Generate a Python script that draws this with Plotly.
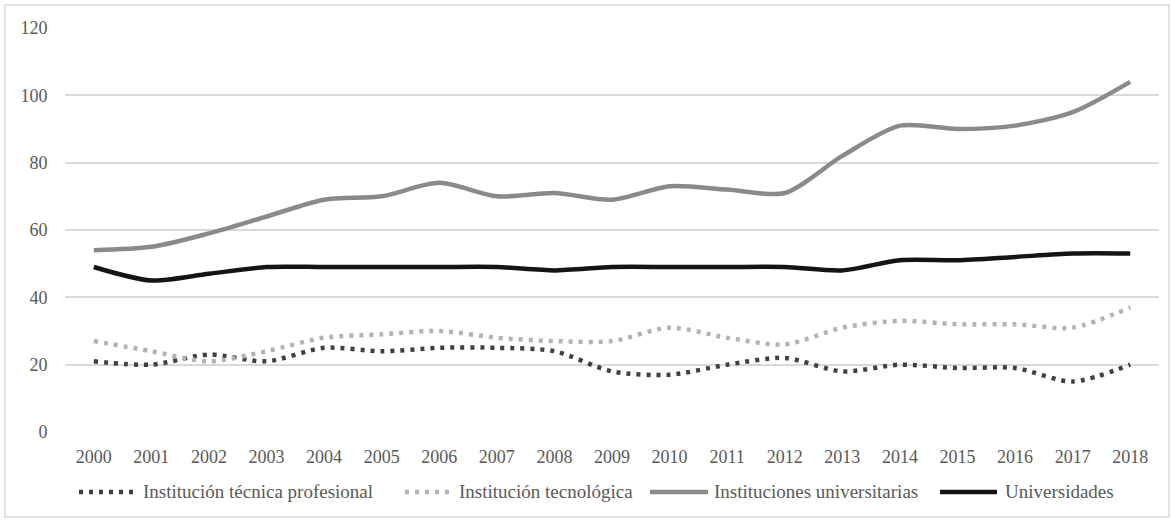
import plotly.graph_objects as go

years = [str(y) for y in range(2000, 2019)]

tecnica_profesional = [21, 20, 23, 21, 25, 24, 25, 25, 24, 18, 17, 20, 22, 18, 20, 19, 19, 15, 20]
tecnologica = [27, 24, 21, 24, 28, 29, 30, 28, 27, 27, 31, 28, 26, 31, 33, 32, 32, 31, 37]
inst_universitarias = [54, 55, 59, 64, 69, 70, 74, 70, 71, 69, 73, 72, 71, 82, 91, 90, 91, 95, 104]
universidades = [49, 45, 47, 49, 49, 49, 49, 49, 48, 49, 49, 49, 49, 48, 51, 51, 52, 53, 53]

series_names = [
    "Institución técnica profesional",
    "Institución tecnológica",
    "Instituciones universitarias",
    "Universidades",
]

FONT = "Liberation Serif"
TEXT_COLOR = "#595959"
GRID = "#d9d9d9"

# figure geometry (pixels)
W, H = 1171, 522
ML, MR, MT, MB = 65, 12, 28, 90
PW, PH = W - ML - MR, H - MT - MB


def px_x(px):
    return (px - ML) / PW


def px_y(py):
    return (H - MB - py) / PH


line_styles = [
    dict(color="#404040", width=4.5, dash="4px,6px"),
    dict(color="#b3b3b3", width=4.5, dash="4px,6px"),
    dict(color="#8a8a8a", width=4.5),
    dict(color="#141414", width=4.5),
]
series_values = [tecnica_profesional, tecnologica, inst_universitarias, universidades]

fig = go.Figure()
for name, vals, line in zip(series_names, series_values, line_styles):
    fig.add_trace(go.Scatter(
        x=years, y=vals, name=name, mode="lines", showlegend=False,
        line=dict(shape="spline", smoothing=0.8, **line),
    ))

# outer frame around the chart
fig.add_shape(
    type="rect", xref="paper", yref="paper",
    x0=px_x(5), x1=px_x(1169), y0=px_y(517), y1=px_y(5),
    line=dict(color=GRID, width=1.5), fillcolor="rgba(0,0,0,0)", layer="below",
)

# legend row below the axis: sample line + label per series
legend_y = px_y(492)
legend_slots = [(79, 137, 141), (405, 452, 457), (650, 708, 712), (940, 997, 1003)]
for name, line, (sx0, sx1, tx) in zip(series_names, line_styles, legend_slots):
    fig.add_shape(
        type="line", xref="paper", yref="paper",
        x0=px_x(sx0), x1=px_x(sx1), y0=legend_y, y1=legend_y,
        line=dict(color=line["color"], width=line["width"], dash=line.get("dash", "solid")),
    )
    fig.add_annotation(
        xref="paper", yref="paper", x=px_x(tx), y=legend_y,
        xanchor="left", yanchor="middle", text=name, showarrow=False,
        font=dict(family=FONT, size=19, color=TEXT_COLOR),
    )

fig.update_layout(
    width=W, height=H,
    margin=dict(l=ML, r=MR, t=MT, b=MB),
    paper_bgcolor="white", plot_bgcolor="white",
    font=dict(family=FONT, size=18, color=TEXT_COLOR),
    showlegend=False,
    xaxis=dict(
        type="category", range=[-0.5, 18.5], showgrid=False,
        showline=False, zeroline=False, ticks="outside", ticklen=8,
        tickcolor="rgba(0,0,0,0)", tickfont=dict(family=FONT, size=18, color=TEXT_COLOR),
    ),
    yaxis=dict(
        range=[0, 120], dtick=20, tick0=0, showgrid=True, gridcolor=GRID, gridwidth=1.5,
        zeroline=False, showline=False, ticks="outside", ticklen=13,
        tickcolor="rgba(0,0,0,0)", tickfont=dict(family=FONT, size=18, color=TEXT_COLOR),
    ),
)

fig.write_html("out.html")
